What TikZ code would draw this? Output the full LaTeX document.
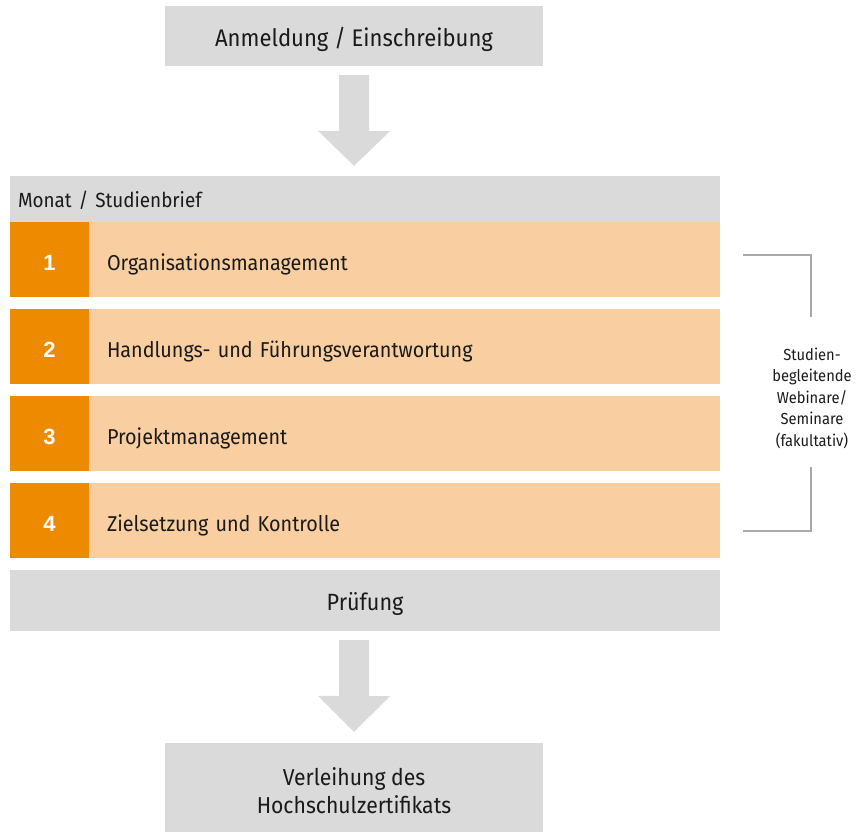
\documentclass[tikz,border=0pt]{standalone}
\usepackage{fontspec}
\setmainfont[FakeStretch=0.92]{Fira Sans}
\newfontfamily\numfont{Liberation Sans}
\usetikzlibrary{calc}
\definecolor{boxgray}{HTML}{DADADA}
\definecolor{orangedark}{HTML}{EE8A00}
\definecolor{orangelight}{HTML}{F9CFA2}
\definecolor{linegray}{HTML}{A9A9A9}
\definecolor{txt}{HTML}{1A1A1A}
\begin{document}
\begin{tikzpicture}[x=1pt,y=-1pt,
  graybox/.style={fill=boxgray, draw=none, inner sep=0pt, text=txt, align=center},
  numbox/.style={fill=orangedark, draw=none, inner sep=0pt, minimum width=79pt, minimum height=75pt, text=white, text height=22pt, text depth=0pt, font=\numfont\bfseries\fontsize{22}{24}\selectfont},
  rowbox/.style={fill=orangelight, draw=none, inner xsep=18pt, inner ysep=0pt, text width=595pt, minimum height=75pt, align=left, text=txt, text height=21pt, text depth=0pt, font=\fontsize{21.5}{25}\selectfont},
  flowarrow/.style={fill=boxgray, draw=none},
  bracket/.style={draw=linegray, line width=2pt}
]
\useasboundingbox (0,0) rectangle (861,832);

\node[graybox, minimum width=378pt, minimum height=60pt, text height=21pt, text depth=0pt, font=\fontsize{24}{28}\selectfont] (top) at (354,36) {Anmeldung / Einschreibung};

\node[graybox, minimum width=710pt, minimum height=46pt, inner xsep=8pt, text width=694pt, align=left, text height=17pt, text depth=0pt, font=\fontsize{20.5}{24}\selectfont] (hdr) at (365,199) {Monat / Studienbrief};

\foreach \i/\yc/\t in {1/259.5/Organisationsmanagement, 2/346.5/Handlungs- und Führungsverantwortung, 3/433.5/Projektmanagement, 4/520.5/Zielsetzung und Kontrolle}{
  \node[numbox] (n\i) at (49.5,\yc) {\i};
  \node[rowbox] (r\i) at (404.5,\yc) {\t};
}

\node[graybox, minimum width=710pt, minimum height=61pt, text height=19pt, text depth=0pt, font=\fontsize{23.5}{28}\selectfont] (pruef) at (365,600.5) {Prüfung};

\node[graybox, minimum width=378pt, minimum height=89pt] (cert) at (354,787.5) {};
\node[text=txt, align=center, inner sep=0pt, font=\fontsize{23}{28.5}\selectfont] (certtext) at ($(cert.center)+(0,3)$) {Verleihung des\\Hochschulzertifikats};

% arrows
\fill[flowarrow] ($(top.south)+(-15,9)$) -- ++(30,0) -- ++(0,56) -- ++(21,0) -- ($(hdr.north -| top.south)+(0,-10)$) -- ++(-36,-35) -- ++(21,0) -- cycle;
\fill[flowarrow] ($(pruef.south -| cert.north)+(-15,9)$) -- ++(30,0) -- ++(0,56) -- ++(21,0) -- ($(cert.north)+(0,-11)$) -- ++(-36,-36) -- ++(21,0) -- cycle;

% label and bracket
\node[text=txt, align=center, inner sep=0pt, font=\fontsize{16}{21.5}\selectfont] (lab) at (812,398) {Studien-\\begleitende\\Webinare/\\Seminare\\(fakultativ)};
\coordinate (bt) at (743,255);
\coordinate (btend) at (811,317);
\coordinate (bb) at (743,531);
\coordinate (bbend) at (811,467);
\draw[bracket] (bt) -| (btend);
\draw[bracket] (bb) -| (bbend);
\end{tikzpicture}
\end{document}
